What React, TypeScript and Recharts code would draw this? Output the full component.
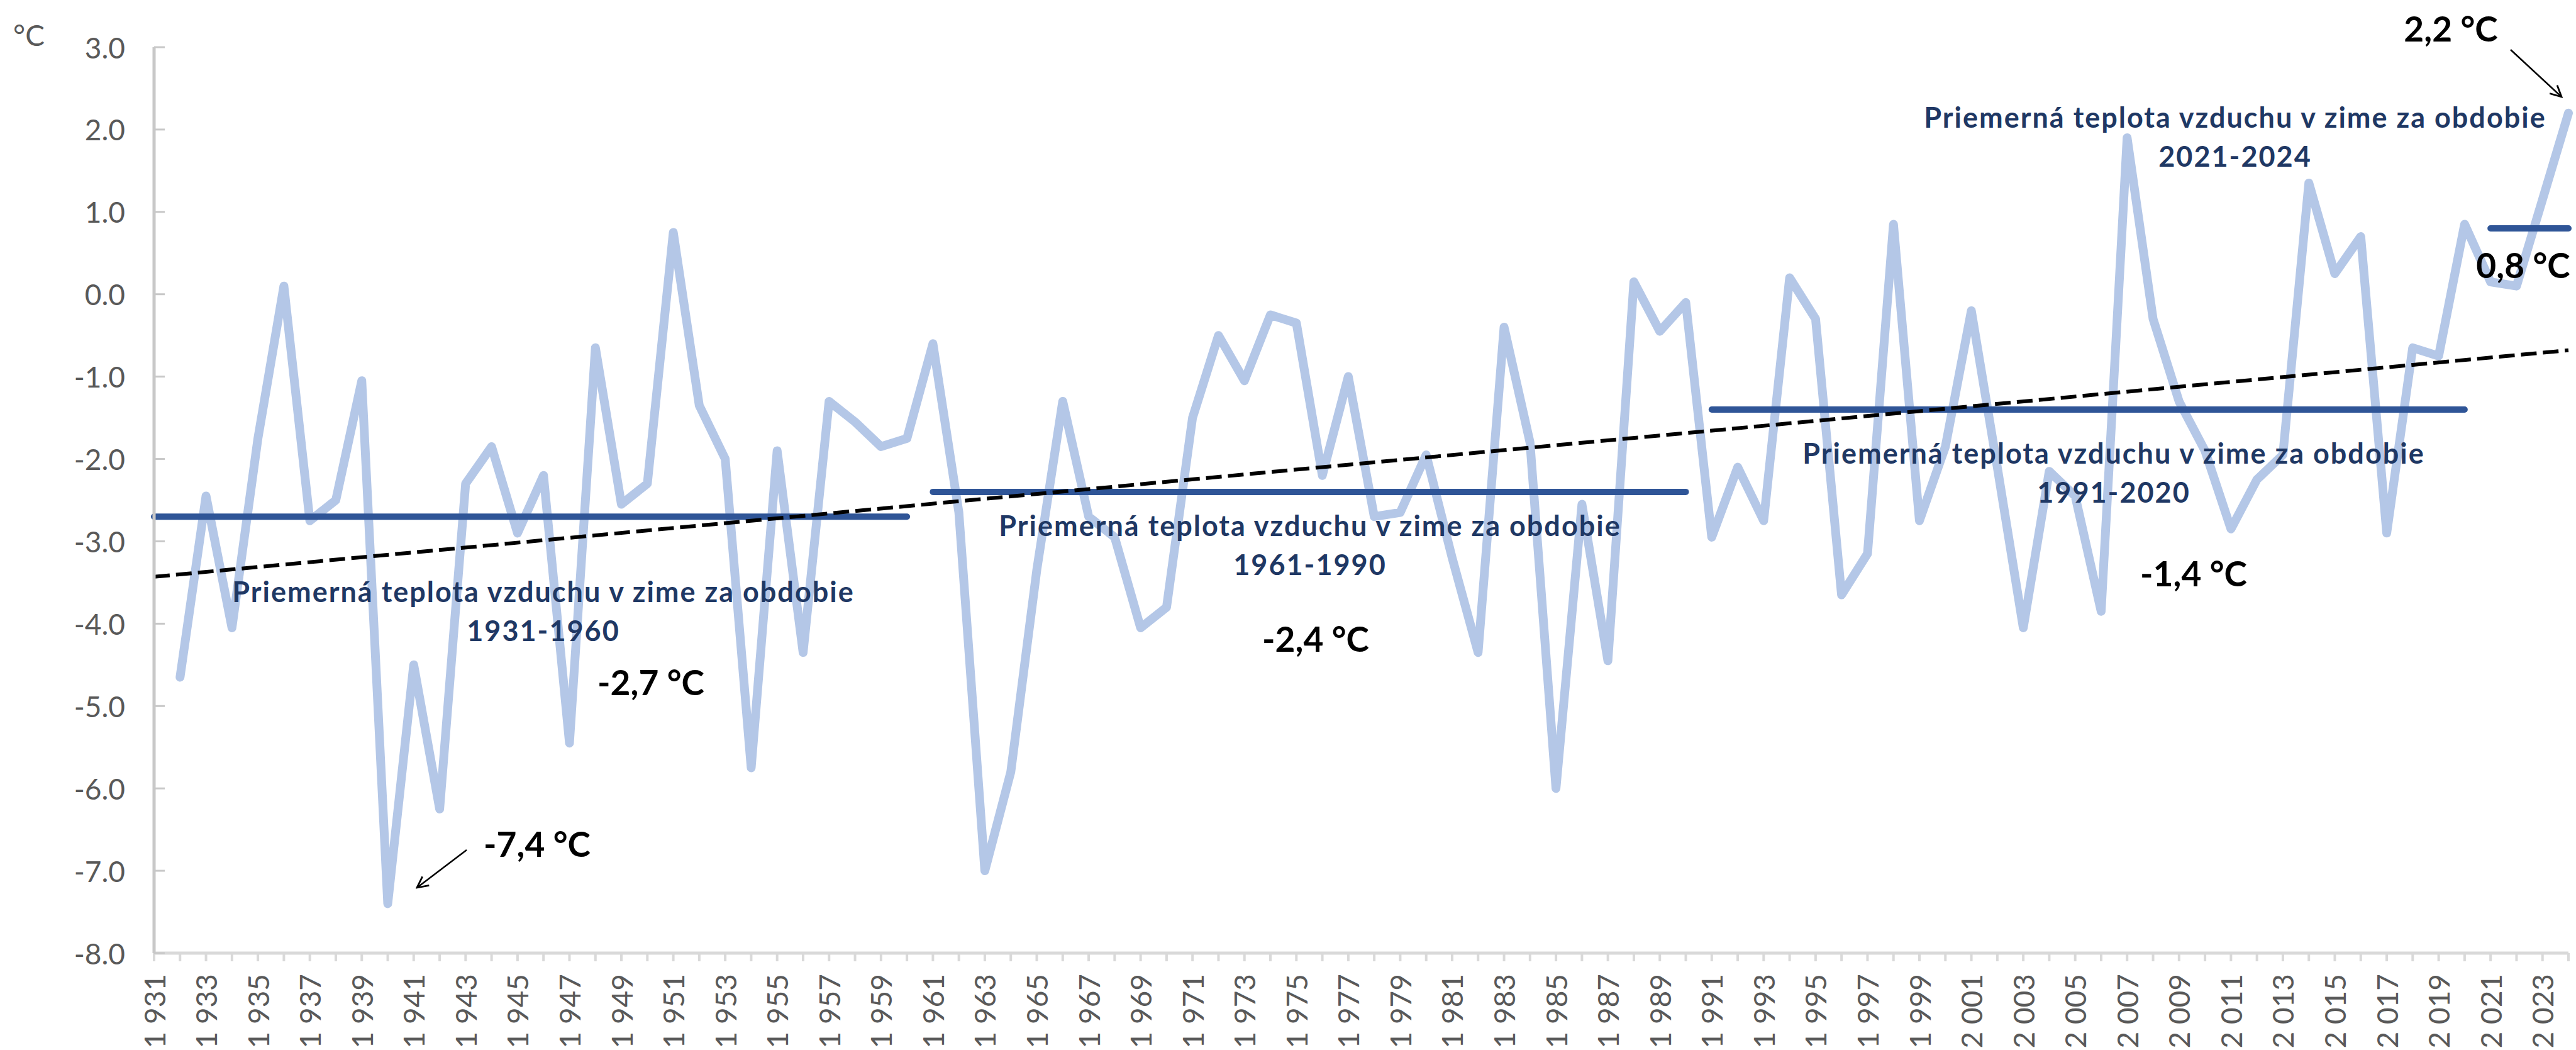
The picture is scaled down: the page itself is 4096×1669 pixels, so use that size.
import React from "react";
import { LineChart, Line, XAxis, YAxis, ReferenceLine } from "recharts";

// winter seasons shown on the category axis
const years = Array.from({ length: 94 }, (_, i) => 1931 + i);

// mean winter air temperature, degC (1931 has no value)
const winterTemps: (number | null)[] = [
  null, -4.65, -2.45, -4.05, -1.75, 0.1, -2.75, -2.5, -1.05, -7.4,
  -4.5, -6.25, -2.3, -1.85, -2.9, -2.2, -5.45, -0.65, -2.55, -2.3,
  0.75, -1.35, -2.0, -5.75, -1.9, -4.35, -1.3, -1.55, -1.85, -1.75,
  -0.6, -2.65, -7.0, -5.8, -3.35, -1.3, -2.7, -2.95, -4.05, -3.8,
  -1.5, -0.5, -1.05, -0.25, -0.35, -2.2, -1.0, -2.7, -2.65, -1.95,
  -3.2, -4.35, -0.4, -1.8, -6.0, -2.55, -4.45, 0.15, -0.45, -0.1,
  -2.95, -2.1, -2.75, 0.2, -0.3, -3.65, -3.15, 0.85, -2.75, -1.85,
  -0.2, -2.1, -4.05, -2.15, -2.45, -3.85, 1.9, -0.3, -1.3, -1.9,
  -2.85, -2.25, -1.95, 1.35, 0.25, 0.7, -2.9, -0.65, -0.75, 0.85,
  0.15, 0.1, 1.15, 2.2,
];

// period averages
const periodStarts = [1931, 1961, 1991, 2021];
const periodEnds = [1960, 1990, 2020, 2024];
const periodMeans = [-2.7, -2.4, -1.4, 0.8];
const periodNames = ["1931-1960", "1961-1990", "1991-2020", "2021-2024"];
const periodValueLabels = ["-2,7 °C", "-2,4 °C", "-1,4 °C", "0,8 °C"];

// linear trend end points
const trendYears = [1931, 2024];
const trendValues = [-3.43, -0.68];

const yTicks = [-8, -7, -6, -5, -4, -3, -2, -1, 0, 1, 2, 3];

const periodTitle = "Priemerná teplota vzduchu v zime za obdobie";

const data = years.map((year, i) => ({ year, temp: winterTemps[i] }));

const FONT = "Lato, 'Open Sans', sans-serif";
const NAVY = "#1F3864";
const MEAN_BLUE = "#2F5597";

// label placement (px) for each period block: title line, period line, value
const labelPos = [
  { x: 864, y: 940, vx: 1035, vy: 1084 },
  { x: 2083, y: 835, vx: 2092, vy: 1015 },
  { x: 3361, y: 720, vx: 3488, vy: 911 },
  { x: 3554, y: 186, vx: 4012, vy: 421 },
];

const XTick = (props: any) => {
  const { x, y, payload } = props;
  const yr = payload.value as number;
  if (yr % 2 === 0) return <g />;
  const s = String(yr);
  return (
    <text
      x={x}
      y={y}
      transform={`rotate(-90 ${x} ${y})`}
      textAnchor="end"
      dominantBaseline="central"
      fontFamily={FONT}
      fontSize={46}
      fill="#595959"
    >
      {s[0] + " " + s.slice(1)}
    </text>
  );
};

const YTick = (props: any) => {
  const { x, y, payload } = props;
  return (
    <g>
      <line x1={x + 46} x2={x + 63} y1={y} y2={y} stroke="#C8C8C8" strokeWidth={3} />
      <text
        x={x}
        y={y}
        textAnchor="end"
        dominantBaseline="central"
        fontFamily={FONT}
        fontSize={46}
        fill="#595959"
      >
        {Number(payload.value).toFixed(1)}
      </text>
    </g>
  );
};

export default function App() {
  return (
    <div
      style={{
        position: "absolute",
        left: 0,
        top: 0,
        width: 4096,
        height: 1669,
        background: "#fff",
      }}
    >
      <LineChart
        width={4096}
        height={1669}
        data={data}
        margin={{ top: 75, right: 12, left: 0, bottom: 0 }}
      >
        <XAxis
          dataKey="year"
          interval={0}
          height={154}
          tick={<XTick />}
          tickSize={13}
          tickMargin={20}
          axisLine={{ stroke: "#D9D9D9", strokeWidth: 5 }}
          tickLine={{ stroke: "#D9D9D9", strokeWidth: 4 }}
        />
        <YAxis
          width={245}
          domain={[-8, 3]}
          ticks={yTicks}
          interval={0}
          tick={<YTick />}
          tickSize={0}
          tickMargin={46}
          tickLine={false}
          axisLine={{ stroke: "#C8C8C8", strokeWidth: 5 }}
        />
        <Line
          dataKey="temp"
          stroke="#B4C7E7"
          strokeWidth={14}
          dot={false}
          activeDot={false}
          strokeLinejoin="round"
          strokeLinecap="round"
          isAnimationActive={false}
        />
        {periodMeans.map((m, i) => (
          <ReferenceLine
            key={periodNames[i]}
            segment={[
              { x: periodStarts[i], y: m },
              { x: periodEnds[i], y: m },
            ]}
            stroke={MEAN_BLUE}
            strokeWidth={10}
            strokeLinecap="round"
          />
        ))}
        <ReferenceLine
          segment={[
            { x: trendYears[0], y: trendValues[0] },
            { x: trendYears[1], y: trendValues[1] },
          ]}
          stroke="#000"
          strokeWidth={6}
          strokeDasharray="25 10"
        />
      </LineChart>
      <svg
        width={4096}
        height={1669}
        style={{ position: "absolute", left: 0, top: 0, pointerEvents: "none" }}
      >
        <defs>
          <marker
            id="arrowHead"
            viewBox="0 0 20 20"
            refX={18}
            refY={10}
            markerWidth={22}
            markerHeight={22}
            markerUnits="userSpaceOnUse"
            orient="auto"
          >
            <path d="M2,2 L18,10 L2,18" fill="none" stroke="#000" strokeWidth={2.5} />
          </marker>
        </defs>
        <text
          x={46}
          y={55}
          textAnchor="middle"
          dominantBaseline="central"
          fontFamily={FONT}
          fontSize={46}
          fill="#595959"
        >
          °C
        </text>
        {labelPos.map((p, i) => (
          <g
            key={periodNames[i]}
            fontFamily={FONT}
            fontWeight="bold"
            textAnchor="middle"
          >
            <text
              x={p.x}
              y={p.y}
              dominantBaseline="central"
              fontSize={45}
              letterSpacing={2}
              fill={NAVY}
            >
              {periodTitle}
            </text>
            <text
              x={p.x}
              y={p.y + 62}
              dominantBaseline="central"
              fontSize={45}
              letterSpacing={2}
              fill={NAVY}
            >
              {periodNames[i]}
            </text>
            <text x={p.vx} y={p.vy} dominantBaseline="central" fontSize={55} fill="#000">
              {periodValueLabels[i]}
            </text>
          </g>
        ))}
        <text
          x={854}
          y={1341}
          textAnchor="middle"
          dominantBaseline="central"
          fontFamily={FONT}
          fontWeight="bold"
          fontSize={55}
          fill="#000"
        >
          -7,4 °C
        </text>
        <line x1={742} y1={1351} x2={663} y2={1411} stroke="#000" strokeWidth={2.5} markerEnd="url(#arrowHead)" />
        <text
          x={3897}
          y={45}
          textAnchor="middle"
          dominantBaseline="central"
          fontFamily={FONT}
          fontWeight="bold"
          fontSize={55}
          fill="#000"
        >
          2,2 °C
        </text>
        <line x1={3992} y1={79} x2={4073} y2={154} stroke="#000" strokeWidth={2.5} markerEnd="url(#arrowHead)" />
      </svg>
    </div>
  );
}
